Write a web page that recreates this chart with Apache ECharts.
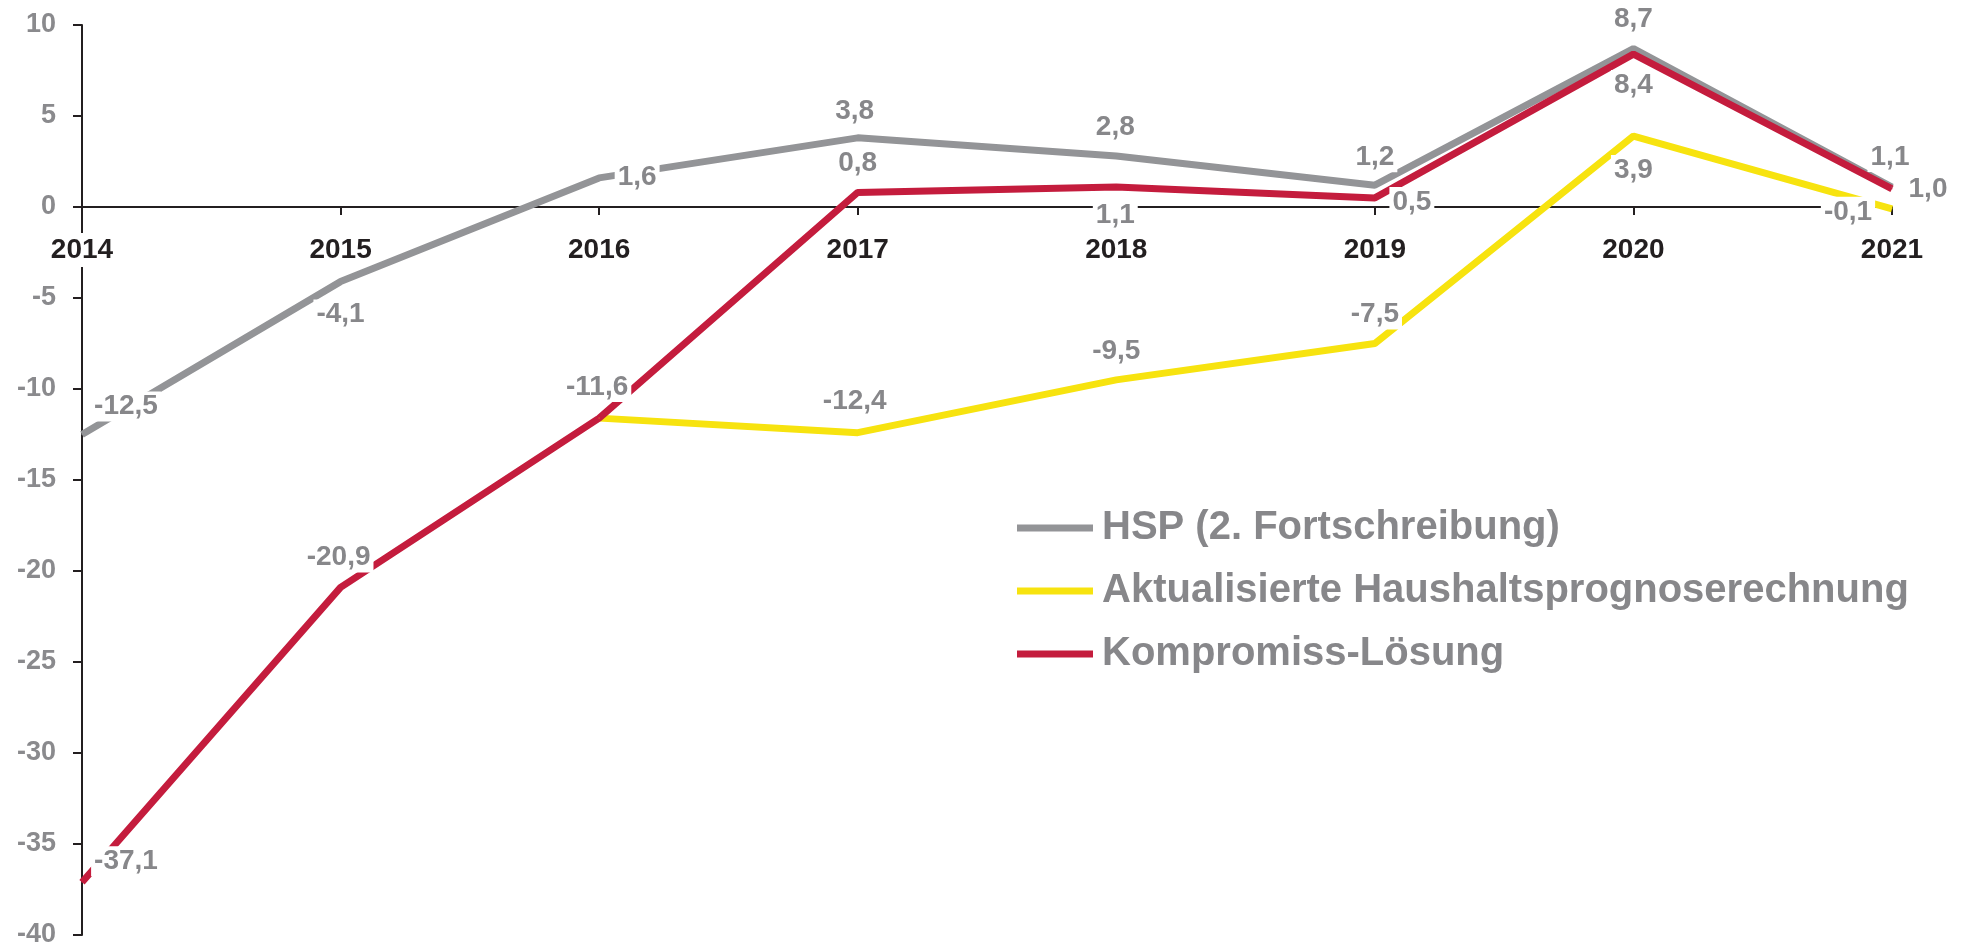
<!DOCTYPE html>
<html lang="de">
<head>
<meta charset="UTF-8">
<title>Haushalt</title>
<script src="https://cdn.jsdelivr.net/npm/echarts@6/dist/echarts.min.js"></script>
<style>
  html, body { margin: 0; padding: 0; background: #fff; }
  #chart { width: 1971px; height: 949px; }
</style>
</head>
<body>
<div id="chart"></div>
<script>
// Jahre und Werte
var years = ['2014', '2015', '2016', '2017', '2018', '2019', '2020', '2021'];
var hsp = [-12.5, -4.1, 1.6, 3.8, 2.8, 1.2, 8.7, 1.1];
var aktualisiert = [null, null, -11.6, -12.4, -9.5, -7.5, 3.9, -0.1];
var kompromiss = [-37.1, -20.9, -11.6, 0.8, 1.1, 0.5, 8.4, 1.0];
var yTicks = [-40, -35, -30, -25, -20, -15, -10, -5, 0, 5, 10];

// label offsets (centre of label relative to point)
var hspOffsets = [[44, -28], [0, 33], [38, -1], [-3, -27], [-1, -29], [0, -28], [0, -29], [-2, -30]];
var aktOffsets = [null, null, null, [-3, -31], [0, -29], [0, -29], [0, 34], [-44, 3]];
var kompOffsets = [[44, -21], [-2, -30], [-2, -31], [0, -29], [-1, 28], [37, 4], [0, 31], [36, 0]];

var grey = '#939497', yellow = '#f7e30f', red = '#c41c3d';
var labelGrey = '#87878a';
var font = '"Liberation Sans", Arial, sans-serif';

var gridTop = 25, gridBottom = 14, chartH = 949;

function fmt(v) { return v.toFixed(1).replace('.', ','); }

function points(values, offsets) {
    return values.map(function (v, i) {
        if (v === null) return null;
        var off = offsets[i];
        return {
            value: v,
            label: off ? {
                show: true,
                position: 'inside',
                offset: off,
                formatter: fmt(v)
            } : { show: false }
        };
    });
}

function line(name, color, values, offsets) {
    return {
        name: name,
        type: 'line',
        data: points(values, offsets),
        symbol: 'circle',
        symbolSize: 1,
        itemStyle: { color: color },
        lineStyle: { color: color, width: 7 },
        label: {
            color: labelGrey,
            fontFamily: font,
            fontWeight: 'bold',
            fontSize: 28,
            backgroundColor: '#fff',
            padding: [1, 3]
        },
        emphasis: { disabled: true },
        animation: false
    };
}

// x axis sits on the zero line: shift it up from the grid bottom
var yMin = yTicks[0], yMax = yTicks[yTicks.length - 1];
var plotH = chartH - gridTop - gridBottom;
var zeroOffset = -plotH * (0 - yMin) / (yMax - yMin);

var chart = echarts.init(document.getElementById('chart'));

chart.setOption({
    backgroundColor: '#fff',
    grid: { left: 82, right: 79, top: gridTop, bottom: gridBottom, containLabel: false, outerBoundsMode: 'none' },
    legend: {
        orient: 'vertical',
        left: 1012,
        top: 503,
        icon: 'rect',
        itemWidth: 76,
        itemHeight: 7,
        itemGap: 23,
        textStyle: {
            color: labelGrey,
            fontFamily: font,
            fontWeight: 'bold',
            fontSize: 40,
            padding: [0, 0, 0, 4]
        },
        data: ['HSP (2. Fortschreibung)', 'Aktualisierte Haushaltsprognoserechnung', 'Kompromiss-Lösung']
    },
    xAxis: {
        type: 'category',
        data: years,
        boundaryGap: false,
        position: 'bottom',
        offset: zeroOffset,
        z: 3,
        axisLine: { onZero: false, lineStyle: { color: '#231f20', width: 2 } },
        axisTick: { show: true, length: 8, inside: false, lineStyle: { color: '#231f20', width: 2 } },
        axisLabel: {
            color: '#231f20',
            fontFamily: font,
            fontWeight: 'bold',
            fontSize: 28,
            margin: 26,
            backgroundColor: '#fff',
            padding: [3, 2]
        },
        splitLine: { show: false }
    },
    yAxis: {
        type: 'value',
        min: yMin,
        max: yMax,
        interval: 5,
        axisLine: { show: true, lineStyle: { color: '#231f20', width: 2 } },
        axisTick: { show: true, length: 9, lineStyle: { color: '#231f20', width: 2 } },
        axisLabel: {
            color: '#8a8a8d',
            fontFamily: font,
            fontWeight: 'bold',
            fontSize: 27,
            margin: 26
        },
        splitLine: { show: false }
    },
    series: [
        line('HSP (2. Fortschreibung)', grey, hsp, hspOffsets),
        line('Aktualisierte Haushaltsprognoserechnung', yellow, aktualisiert, aktOffsets),
        line('Kompromiss-Lösung', red, kompromiss, kompOffsets)
    ]
});
</script>
</body>
</html>
